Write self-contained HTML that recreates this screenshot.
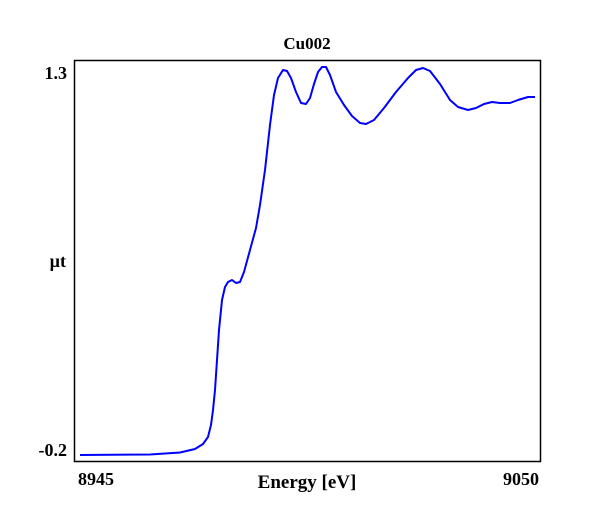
<!DOCTYPE html>
<html><head><style>
body{margin:0;background:#fff;}
svg{display:block;font-family:"Liberation Serif",serif;font-weight:bold;}
</style></head><body>
<svg width="600" height="520" viewBox="0 0 600 520">
<rect x="74.5" y="60.5" width="466" height="401" fill="none" stroke="#000" stroke-width="1.5"/>
<text x="307" y="49" font-size="17" text-anchor="middle">Cu002</text>
<text x="67" y="79" font-size="18" text-anchor="end">1.3</text>
<text x="66" y="267" font-size="18" text-anchor="end">µt</text>
<text x="67" y="456" font-size="18" text-anchor="end">-0.2</text>
<text x="78" y="485" font-size="18">8945</text>
<text x="539" y="485" font-size="18" text-anchor="end">9050</text>
<text x="307" y="488" font-size="19" text-anchor="middle">Energy [eV]</text>
<polyline fill="none" stroke="#0000ff" stroke-width="2" stroke-linejoin="round" points="80,455 150,454.5 180,452.5 195,449 203,444 208,437 211,425 213,410 215,390 217,360 219,330 222,300 225,287 228,282 232,280 236,283 240,282 244,272 250,250 256,228 260,205 265,170 270,125 274,95 278,78 283,70 287,71 291,78 296,92 301,103 306,104 310,98 314,84 318,72 322,67 326,67 330,75 336,92 344,105 352,116 360,123 366,124 374,120 384,108 396,92 408,78 416,70 423,68 430,71 440,84 450,100 458,107 468,110 476,108 484,104 492,102 500,103 510,103 518,100 528,97 535,97"/>
</svg>
</body></html>
